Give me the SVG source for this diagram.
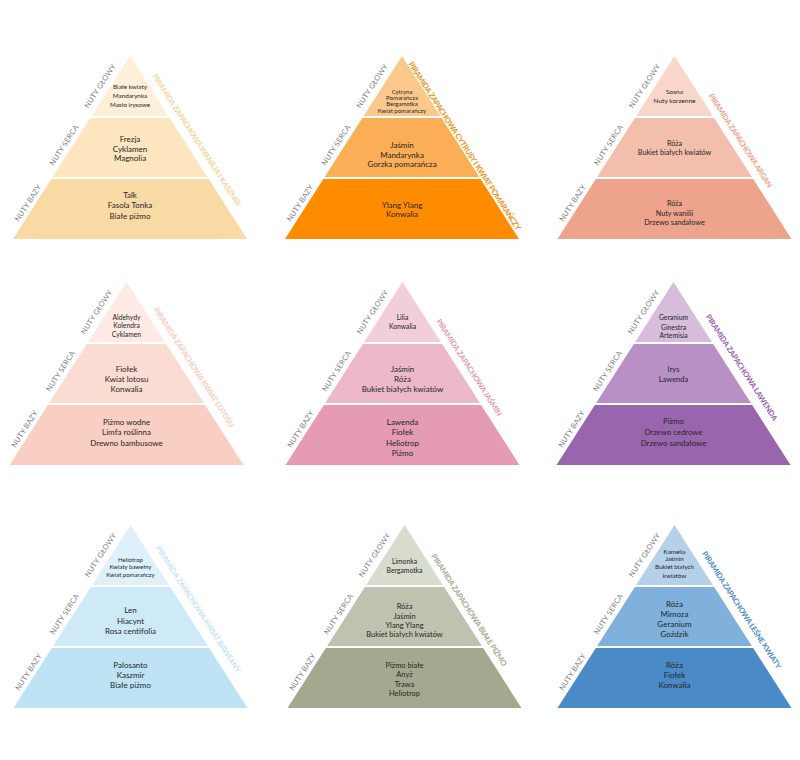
<svg xmlns="http://www.w3.org/2000/svg" width="800" height="760" viewBox="0 0 800 760">
<style>
text{font-family:Lato,"Open Sans","Liberation Sans",sans-serif}
.t{fill:#262626;text-anchor:middle}
.lbl{fill:#7f7f7f;font-size:7.4px;text-anchor:middle;letter-spacing:0.2px}
.ttl{font-size:7.6px;font-weight:700;text-anchor:middle}
.div{stroke:#ffffff;stroke-width:1.8}
</style>
<defs>
<polygon id="tTop" points="0,0 39,61 -39,61"/>
<polygon id="tMid" points="-39,61 39,61 78,122 -78,122"/>
<polygon id="tBot" points="-78,122 78,122 117,183 -117,183"/>
<g id="dividers"><line class="div" x1="-40" y1="61" x2="40" y2="61"/><line class="div" x1="-79" y1="122" x2="79" y2="122"/></g>
<g id="labels">
<text class="lbl" transform="translate(-30,30) rotate(-57)" dy="2.6">NUTY GŁOWY</text>
<text class="lbl" transform="translate(-66,89) rotate(-57)" dy="2.6">NUTY SERCA</text>
<text class="lbl" transform="translate(-102,147) rotate(-57)" dy="2.6">NUTY BAZY</text>
</g>
</defs>
<rect width="800" height="760" fill="#ffffff"/>

<g id="pyr-wanilia-kaszmir" transform="translate(130,56)">
<use href="#tTop" fill="#FDEFD8"/><use href="#tMid" fill="#FCE5BF"/><use href="#tBot" fill="#F9D9A4"/>
<use href="#dividers"/><use href="#labels"/>
<text class="t" font-size="6.3"><tspan x="0" y="33.4">Białe kwiaty</tspan><tspan x="0" y="42.1">Mandarynka</tspan><tspan x="0" y="51.1">Masło irysowe</tspan></text>
<text class="t" font-size="8"><tspan x="0" y="86">Frezja</tspan><tspan x="0" y="95.6">Cyklamen</tspan><tspan x="0" y="105.3">Magnolia</tspan></text>
<text class="t" font-size="8"><tspan x="0" y="142">Talk</tspan><tspan x="0" y="152.3">Fasola Tonka</tspan><tspan x="0" y="162.6">Białe piżmo</tspan></text>
<text class="ttl" fill="#F5D59C" transform="translate(66.7,84) rotate(57)" dy="2.7" textLength="156">PIRAMIDA ZAPACHOWA WANILIA I KASZMIR</text>
</g>

<g id="pyr-cytrusy" transform="translate(402,56)">
<use href="#tTop" fill="#FBC88C"/><use href="#tMid" fill="#FBAE55"/><use href="#tBot" fill="#FF8C00"/>
<use href="#dividers"/><use href="#labels"/>
<text class="t" font-size="6"><tspan x="0" y="37.7">Cytryna</tspan><tspan x="0" y="44.3">Pomarańcza</tspan><tspan x="0" y="50.3">Bergamotka</tspan><tspan x="0" y="56.7">Kwiat pomarańczy</tspan></text>
<text class="t" font-size="8"><tspan x="0" y="91.6">Jaśmin</tspan><tspan x="0" y="101.6">Mandarynka</tspan><tspan x="0" y="111">Gorzka pomarańcza</tspan></text>
<text class="t" font-size="8"><tspan x="0" y="151.6">Ylang Ylang</tspan><tspan x="0" y="160.6">Konwalia</tspan></text>
<text class="ttl" fill="#F0900F" transform="translate(62.7,90) rotate(57)" dy="2.7" textLength="199">PIRAMIDA ZAPACHOWA CYTRUSY I KWIAT POMARAŃCZY</text>
</g>

<g id="pyr-argan" transform="translate(674.5,56)">
<use href="#tTop" fill="#F8D7CA"/><use href="#tMid" fill="#F3BFAC"/><use href="#tBot" fill="#EDA38C"/>
<use href="#dividers"/><use href="#labels"/>
<text class="t" font-size="6.5"><tspan x="0" y="37.8">Sosna</tspan><tspan x="0" y="46.8">Nuty korzenne</tspan></text>
<text class="t" font-size="7.2"><tspan x="0" y="89.7">Róża</tspan><tspan x="0" y="98.7">Bukiet białych kwiatów</tspan></text>
<text class="t" font-size="7.2"><tspan x="0" y="150.4">Róża</tspan><tspan x="0" y="159.7">Nuty wanilii</tspan><tspan x="0" y="169.1">Drzewo sandałowe</tspan></text>
<text class="ttl" fill="#EFA38B" transform="translate(66,84.5) rotate(57)" dy="2.7" textLength="110">PIRAMIDA ZAPACHOWA ARGAN</text>
</g>

<g id="pyr-kwiat-lotosu" transform="translate(126.5,282)">
<use href="#tTop" fill="#FDEAE4"/><use href="#tMid" fill="#FBDCD3"/><use href="#tBot" fill="#F9CFC3"/>
<use href="#dividers"/><use href="#labels"/>
<text class="t" font-size="6.8"><tspan x="0" y="37.5">Aldehydy</tspan><tspan x="0" y="46.2">Kolendra</tspan><tspan x="0" y="55.2">Cyklamen</tspan></text>
<text class="t" font-size="8"><tspan x="0" y="89.6">Fiołek</tspan><tspan x="0" y="99.6">Kwiat lotosu</tspan><tspan x="0" y="110">Konwalia</tspan></text>
<text class="t" font-size="8"><tspan x="0" y="143">Piżmo wodne</tspan><tspan x="0" y="153.3">Limfa roślinna</tspan><tspan x="0" y="164">Drewno bambusowe</tspan></text>
<text class="ttl" fill="#F8CBBD" transform="translate(67.7,85.5) rotate(57)" dy="2.7" textLength="141">PIRAMIDA ZAPACHOWA KWIAT LOTOSU</text>
</g>

<g id="pyr-jasmin" transform="translate(402.5,282)">
<use href="#tTop" fill="#F2CEDB"/><use href="#tMid" fill="#EDB8CA"/><use href="#tBot" fill="#E59BB3"/>
<use href="#dividers"/><use href="#labels"/>
<text class="t" font-size="6.8"><tspan x="0" y="37.5">Lilia</tspan><tspan x="0" y="46.9">Konwalia</tspan></text>
<text class="t" font-size="8"><tspan x="0" y="90">Jaśmin</tspan><tspan x="0" y="100">Róża</tspan><tspan x="0" y="110">Bukiet białych kwiatów</tspan></text>
<text class="t" font-size="8"><tspan x="0" y="142.6">Lawenda</tspan><tspan x="0" y="153.1">Fiołek</tspan><tspan x="0" y="163.6">Heliotrop</tspan><tspan x="0" y="174.1">Piżmo</tspan></text>
<text class="ttl" fill="#E39AB3" transform="translate(66.7,85.5) rotate(57)" dy="2.7" textLength="114">PIRAMIDA ZAPACHOWA JAŚMIN</text>
</g>

<g id="pyr-lawenda" transform="translate(673.5,282)">
<use href="#tTop" fill="#D7BCDC"/><use href="#tMid" fill="#B890C5"/><use href="#tBot" fill="#9966AE"/>
<use href="#dividers"/><use href="#labels"/>
<text class="t" font-size="6.8"><tspan x="0" y="37.9">Geranium</tspan><tspan x="0" y="47.5">Ginestra</tspan><tspan x="0" y="56.2">Artemisia</tspan></text>
<text class="t" font-size="7.5"><tspan x="0" y="89.5">Irys</tspan><tspan x="0" y="99.5">Lawenda</tspan></text>
<text class="t" font-size="7.8"><tspan x="0" y="142.3">Piżmo</tspan><tspan x="0" y="152.9">Drzewo cedrowe</tspan><tspan x="0" y="163.6">Drzewo sandałowe</tspan></text>
<text class="ttl" fill="#985BB0" transform="translate(68.2,85.5) rotate(57)" dy="2.7" textLength="125">PIRAMIDA ZAPACHOWA LAWENDA</text>
</g>

<g id="pyr-kwiat-bawelny" transform="translate(130.5,525)">
<use href="#tTop" fill="#DEF0FA"/><use href="#tMid" fill="#CEE9F7"/><use href="#tBot" fill="#BEE3F5"/>
<use href="#dividers"/><use href="#labels"/>
<text class="t" font-size="6"><tspan x="0" y="37">Heliotrop</tspan><tspan x="0" y="44.3">Kwiaty bawełny</tspan><tspan x="0" y="52.3">Kwiat pomarańczy</tspan></text>
<text class="t" font-size="8"><tspan x="0" y="88.3">Len</tspan><tspan x="0" y="98.6">Hiacynt</tspan><tspan x="0" y="109.3">Rosa centifolia</tspan></text>
<text class="t" font-size="8"><tspan x="0" y="142.6">Palosanto</tspan><tspan x="0" y="153">Kaszmir</tspan><tspan x="0" y="163.3">Białe piżmo</tspan></text>
<text class="ttl" fill="#C3E5F5" transform="translate(67.8,84.2) rotate(57)" dy="2.7" textLength="149">PIRAMIDA ZAPACHOWA KWIAT BAWEŁNY</text>
</g>

<g id="pyr-biale-pizmo" transform="translate(404.5,525)">
<use href="#tTop" fill="#D8DCCF"/><use href="#tMid" fill="#BEC3B0"/><use href="#tBot" fill="#A3A98F"/>
<use href="#dividers"/><use href="#labels"/>
<text class="t" font-size="6.8"><tspan x="0" y="38.9">Limonka</tspan><tspan x="0" y="48.2">Bergamotka</tspan></text>
<text class="t" font-size="7.5"><tspan x="0" y="84.2">Róża</tspan><tspan x="0" y="93.5">Jaśmin</tspan><tspan x="0" y="102.5">Ylang Ylang</tspan><tspan x="0" y="111.8">Bukiet białych kwiatów</tspan></text>
<text class="t" font-size="7.5"><tspan x="0" y="142.5">Piżmo białe</tspan><tspan x="0" y="151.8">Anyż</tspan><tspan x="0" y="161.5">Trawa</tspan><tspan x="0" y="170.8">Heliotrop</tspan></text>
<text class="ttl" fill="#A5AA92" transform="translate(64.7,85) rotate(57)" dy="2.7" textLength="132">PIRAMIDA ZAPACHOWA BIAŁE PIŻMO</text>
</g>

<g id="pyr-lesne-kwiaty" transform="translate(674.5,525)">
<use href="#tTop" fill="#B5D1EA"/><use href="#tMid" fill="#80B0DC"/><use href="#tBot" fill="#4A8AC7"/>
<use href="#dividers"/><use href="#labels"/>
<text class="t" font-size="6.3"><tspan x="0" y="29.4">Kamelia</tspan><tspan x="0" y="36.4">Jaśmin</tspan><tspan x="0" y="44.4">Bukiet białych</tspan><tspan x="0" y="53.1">kwiatów</tspan></text>
<text class="t" font-size="8"><tspan x="0" y="82">Róża</tspan><tspan x="0" y="91.6">Mimoza</tspan><tspan x="0" y="101.6">Geranium</tspan><tspan x="0" y="111.6">Goździk</tspan></text>
<text class="t" font-size="8"><tspan x="0" y="143">Róża</tspan><tspan x="0" y="152.6">Fiołek</tspan><tspan x="0" y="162.6">Konwalia</tspan></text>
<text class="ttl" fill="#4A89C8" transform="translate(67.2,85) rotate(57)" dy="2.7" textLength="138">PIRAMIDA ZAPACHOWA LEŚNE KWIATY</text>
</g>
</svg>
